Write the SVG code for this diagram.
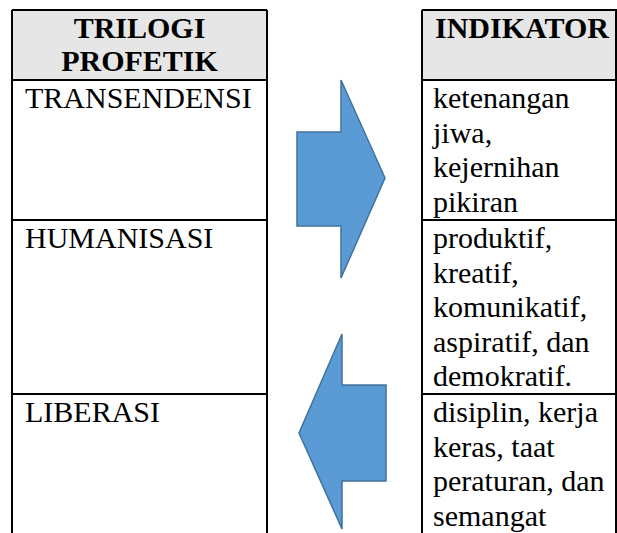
<svg xmlns="http://www.w3.org/2000/svg" width="617" height="533" viewBox="0 0 617 533">
<style>
.hdr{fill:#e6e6e6;stroke:none}
.ln{stroke:#000;stroke-width:2;fill:none}
.t{font-family:"Liberation Serif","Times New Roman",serif;font-size:30px;fill:#000}
.b{font-weight:bold}
.arr{fill:#5b9bd5;stroke:#41719c;stroke-width:1.5;stroke-linejoin:miter}
</style>
<g id="table-left">
<rect class="hdr" x="12" y="10" width="255" height="70"/>
<path class="ln" d="M12 10H267M12 80H267M12 220H267M12 394H267M12 10V533M267 10V533"/>
<text class="t b" x="139.5" y="38" text-anchor="middle">TRILOGI</text>
<text class="t b" x="139.5" y="71" text-anchor="middle">PROFETIK</text>
</g>
<g id="node-transendensi"><text class="t" x="25" y="108">TRANSENDENSI</text></g>
<g id="node-humanisasi"><text class="t" x="25" y="248">HUMANISASI</text></g>
<g id="node-liberasi"><text class="t" x="25" y="422">LIBERASI</text></g>
<g id="table-right">
<rect class="hdr" x="422" y="10" width="195" height="70"/>
<path class="ln" d="M422 10H617M422 80H617M422 220H617M422 394H617M422 10V533M616 10V533"/>
<text class="t b" x="435" y="38">INDIKATOR</text>
</g>
<g id="node-ind1">
<text class="t" x="433" y="108">ketenangan</text>
<text class="t" x="433" y="142.5">jiwa,</text>
<text class="t" x="433" y="177">kejernihan</text>
<text class="t" x="433" y="211.5">pikiran</text>
</g>
<g id="node-ind2">
<text class="t" x="433" y="248">produktif,</text>
<text class="t" x="433" y="282.5">kreatif,</text>
<text class="t" x="433" y="317">komunikatif,</text>
<text class="t" x="433" y="351.5">aspiratif, dan</text>
<text class="t" x="433" y="386">demokratif.</text>
</g>
<g id="node-ind3">
<text class="t" x="433" y="422">disiplin, kerja</text>
<text class="t" x="433" y="456.5">keras, taat</text>
<text class="t" x="433" y="491">peraturan, dan</text>
<text class="t" x="433" y="525.5">semangat</text>
</g>
<g id="connectors">
<polygon class="arr" points="297,132 341,132 341,80 385,178 341,278 341,226 297,226"/>
<polygon class="arr" points="386,385 342,385 342,334 299,433 342,529 342,481 386,481"/>
</g>
</svg>
